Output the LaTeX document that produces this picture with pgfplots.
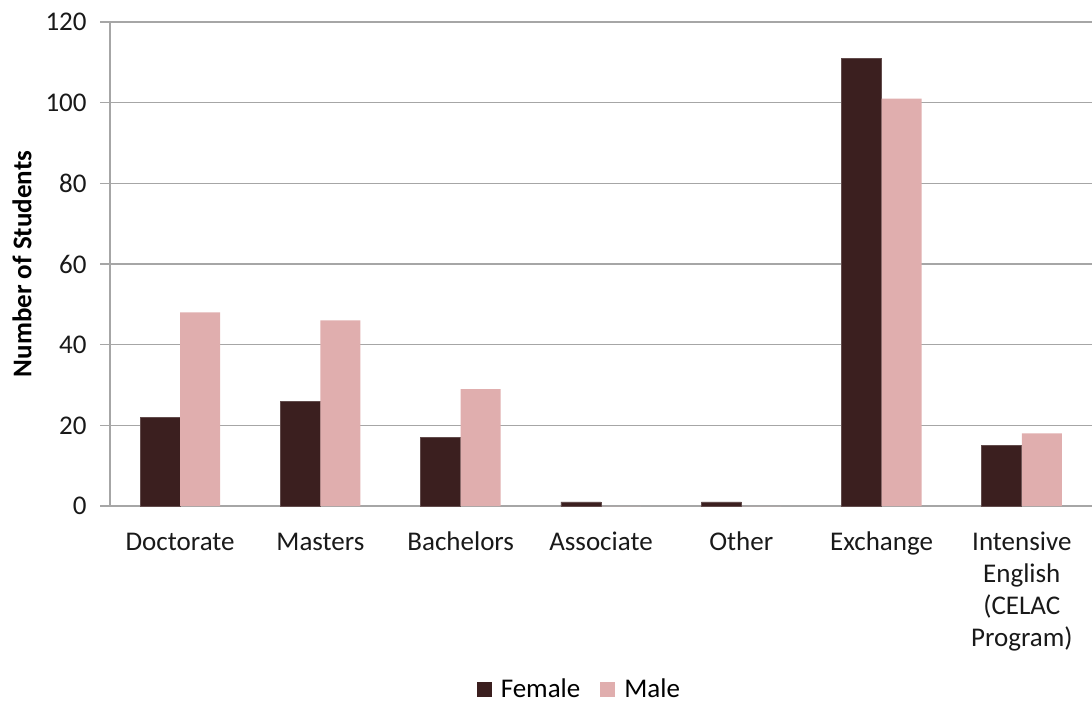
\documentclass[border=0pt]{standalone}
\usepackage{pgfplots}
\pgfplotsset{compat=1.18}
\usepackage{fontspec}
\setmainfont{Carlito}
\definecolor{female}{HTML}{3B1F1F}
\definecolor{male}{HTML}{E0AEAE}
\definecolor{gridgray}{HTML}{A6A6A6}

\begin{document}
\fontsize{13.5}{16}\selectfont
\begin{tikzpicture}
\useasboundingbox (0,0) rectangle (546pt,351pt);
\begin{axis}[
    at={(55pt,98pt)}, anchor=south west,
    scale only axis,
    width=491pt, height=242pt,
    ybar=0pt, bar width=20pt,
    xmin=-0.5, xmax=6.5,
    ymin=0, ymax=120,
    ytick={0,20,...,120},
    xtick=data,
    xticklabels={\strut Doctorate,\strut Masters,\strut Bachelors,\strut Associate,\strut Other,\strut Exchange,{\strut Intensive\\English\\(CELAC\\Program)}},
    xticklabel style={align=center, anchor=north, yshift=-1.5pt, text=black!90},
    yticklabel style={text=black!90, xshift=-2pt},
    /pgf/number format/assume math mode=true,
    axis x line*=bottom, axis y line*=left,
    axis line style={gridgray, line width=0.75pt},
    x axis line style={-}, y axis line style={-},
    major x tick style={draw=none},
    major y tick style={gridgray, line width=0.75pt},
    tick align=outside, major tick length=5pt,
    ymajorgrids, grid style={gridgray, line width=0.75pt},
    ylabel={\textbf{Number of Students}},
    ylabel style={at={(axis description cs:-0.0896,0.5)}, anchor=center},
    legend style={at={(axis description cs:0.479,-0.38)}, anchor=center,
        draw=none, legend columns=2, font=\fontsize{13.5}{16}\selectfont,
        /tikz/every even column/.append style={column sep=8pt}},
    legend image code/.code={\fill[#1, draw=none] (0pt,-3.75pt) rectangle (7.5pt,3.75pt);
        \path[draw=none, fill=none] (0pt,0pt) -- (10pt,0pt);},
]
\addplot[fill=female, draw=female!80!white, line width=0.4pt] coordinates {
    (0,22) (1,26) (2,17) (3,1) (4,1) (5,111) (6,15)
};
\addplot[fill=male, draw=none] coordinates {
    (0,48) (1,46) (2,29) (3,0) (4,0) (5,101) (6,18)
};
\legend{Female, Male}
\end{axis}
\end{tikzpicture}
\end{document}
